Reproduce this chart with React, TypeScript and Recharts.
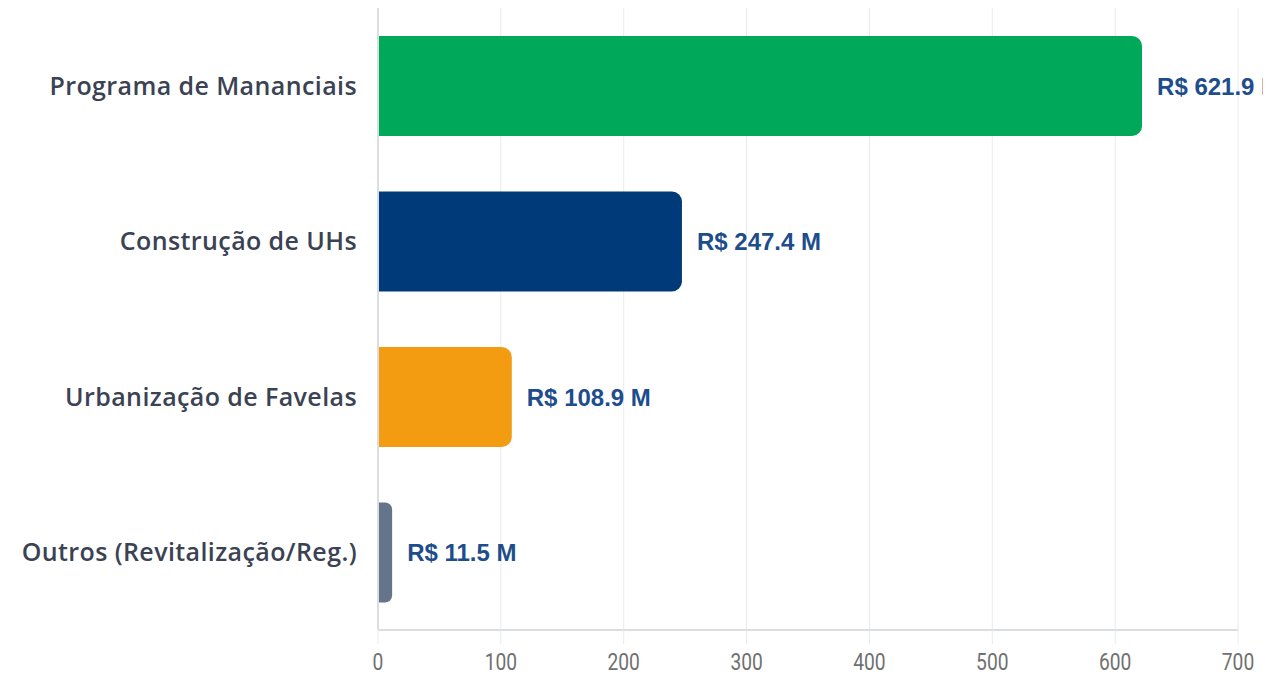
import React from "react";
import { BarChart, Bar, XAxis, YAxis, CartesianGrid, LabelList, Cell } from "recharts";

const categories = [
  "Programa de Mananciais",
  "Construção de UHs",
  "Urbanização de Favelas",
  "Outros (Revitalização/Reg.)",
];
const values = [621.9, 247.4, 108.9, 11.5];
const colors = ["#00a859", "#003a78", "#f39c12", "#64748b"];
const xTicks = [0, 100, 200, 300, 400, 500, 600, 700];

const data = categories.map((name, i) => ({ name, value: values[i] }));

const fmt = (v: number) => `R$ ${v.toFixed(1)} M`;

const XTick = (props: any) => {
  const { x, y, payload } = props;
  return (
    <g transform={`translate(${x},${y})`}>
      <text
        x={0}
        y={0}
        textAnchor="middle"
        transform="scale(0.8,1)"
        fill="#707070"
        fontSize={24}
        fontFamily="Roboto, sans-serif"
      >
        {payload.value}
      </text>
    </g>
  );
};

export default function App() {
  return (
    <div style={{ position: "absolute", left: 0, top: 0, background: "#fff" }}>
      <BarChart
        width={1263}
        height={676}
        data={data}
        layout="vertical"
        margin={{ top: 8, right: 25, bottom: 0, left: 0 }}
        barCategoryGap="18%"
      >
        <CartesianGrid horizontal={false} vertical={true} stroke="#e8eaee" />
        <XAxis
          type="number"
          domain={[0, 700]}
          ticks={xTicks}
          height={46}
          axisLine={{ stroke: "#dadde2", strokeWidth: 2 }}
          tickLine={{ stroke: "#e8eaee" }}
          tickSize={14}
          tickMargin={26}
          tick={<XTick />}
        />
        <YAxis
          type="category"
          dataKey="name"
          width={378}
          axisLine={{ stroke: "#dadde2", strokeWidth: 2 }}
          tickLine={false}
          tickMargin={15}
          tick={{ fill: "#3a4253", fontSize: 25, fontWeight: 600, letterSpacing: 0.4, fontFamily: "'Open Sans', sans-serif" }}
        />
        <Bar dataKey="value" radius={[0, 10, 10, 0]} isAnimationActive={false}>
          {data.map((d, i) => (
            <Cell key={d.name} fill={colors[i]} />
          ))}
          <LabelList
            dataKey="value"
            position="right"
            offset={15}
            formatter={(v: any) => fmt(Number(v))}
            style={{ fill: "#1e4d8c", fontSize: 24, fontWeight: 700, fontFamily: "'Liberation Sans', Arial, sans-serif" }}
          />
        </Bar>
      </BarChart>
    </div>
  );
}
